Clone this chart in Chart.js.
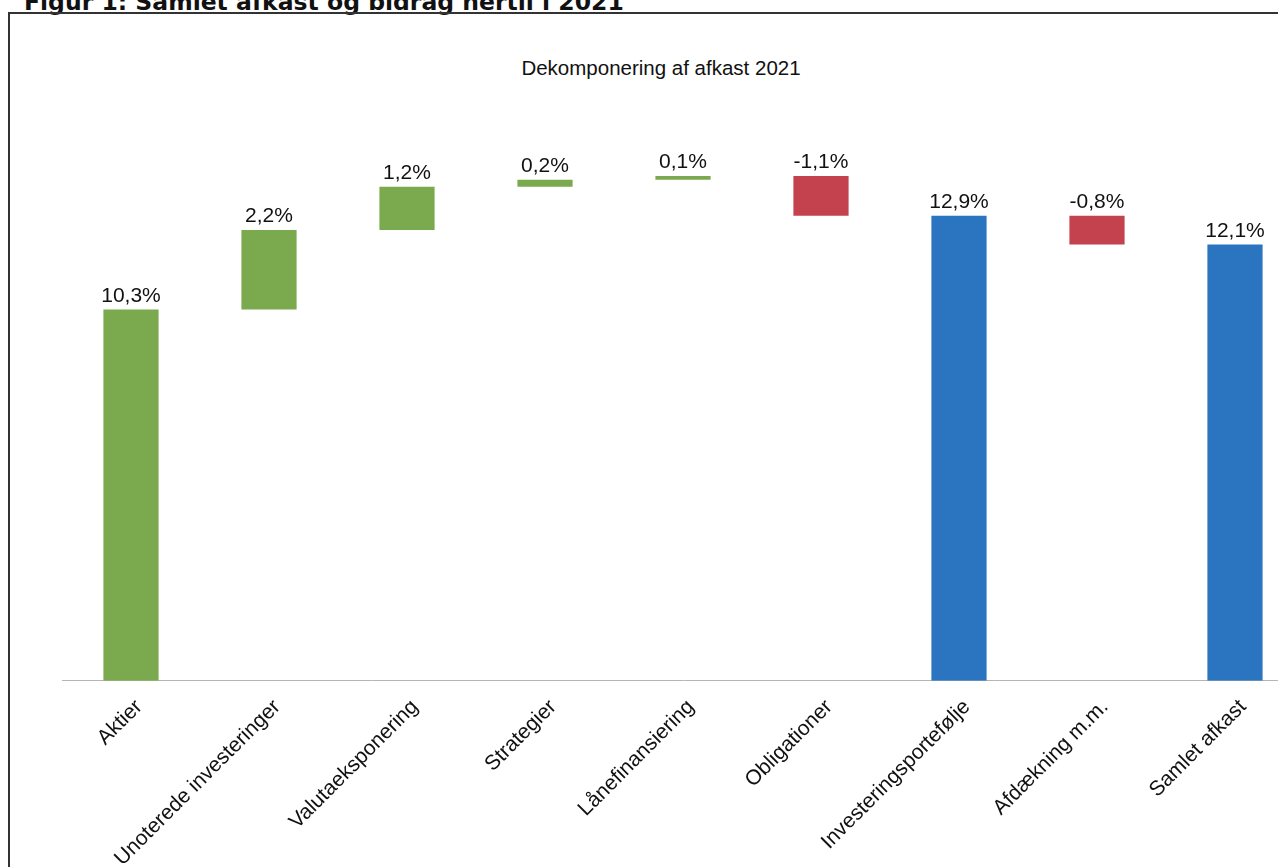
<!DOCTYPE html>
<html>
<head>
<meta charset="utf-8">
<script src="https://cdn.jsdelivr.net/npm/chart.js@4"></script>
<style>
  body { margin: 0; background: #fff; overflow: hidden; width: 1278px; height: 867px; position: relative; }
  #fig { position: absolute; left: 24px; top: -10px; font-family: "DejaVu Sans", Verdana, sans-serif; font-weight: bold; font-size: 23.5px; line-height: 24px; color: #111; white-space: nowrap; }
  #frame { position: absolute; left: 8px; top: 12px; width: 1320px; height: 900px; border: 2px solid #333; }
  #title { position: absolute; left: 461px; width: 400px; top: 56px; text-align: center; font-family: "Liberation Sans", Arial, sans-serif; font-size: 20.5px; color: #111; }
  #wrap { position: absolute; left: 0; top: 0; width: 1310px; height: 877px; }
</style>
</head>
<body>
<div id="fig">Figur 1: Samlet afkast og bidrag hertil i 2021</div>
<div id="frame"></div>
<div id="title">Dekomponering af afkast 2021</div>
<div id="wrap"><canvas id="wfChart"></canvas></div>
<script>
// kategorier og værdier (procent)
const categories = ['Aktier', 'Unoterede investeringer', 'Valutaeksponering', 'Strategier',
    'Lånefinansiering', 'Obligationer', 'Investeringsportefølje', 'Afdækning m.m.', 'Samlet afkast'];
const values = [10.3, 2.2, 1.2, 0.2, 0.1, -1.1, 12.9, -0.8, 12.1];
const isTotal = [false, false, false, false, false, false, true, false, true];

const GREEN = '#7aaa4d';
const RED = '#c4414e';
const BLUE = '#2a74c0';

// byg flydende søjler ud fra løbende sum
const floating = [];
const colors = [];
let running = 0;
values.forEach((v, i) => {
    if (isTotal[i]) {
        floating.push([0, v]);
        running = v;
        colors.push(BLUE);
    } else {
        floating.push([running, running + v]);
        running += v;
        colors.push(v < 0 ? RED : GREEN);
    }
});

// tekst over hver søjle
const valueLabels = {
    id: 'valueLabels',
    afterDatasetsDraw(chart) {
        const ctx = chart.ctx;
        const meta = chart.getDatasetMeta(0);
        ctx.save();
        ctx.font = '21px "Liberation Sans", Arial, sans-serif';
        ctx.fillStyle = '#111';
        ctx.textAlign = 'center';
        ctx.textBaseline = 'bottom';
        meta.data.forEach((bar, i) => {
            const top = Math.min(bar.y, bar.base);
            const txt = values[i].toFixed(1).replace('.', ',') + '%';
            ctx.fillText(txt, bar.x, top - 3);
        });
        ctx.restore();
    }
};

const wfChart = new Chart(document.getElementById('wfChart'), {
    type: 'bar',
    data: {
        labels: categories,
        datasets: [{
            data: floating,
            backgroundColor: colors,
            borderWidth: 0,
            barPercentage: 0.4,
            categoryPercentage: 1.0
        }]
    },
    options: {
        responsive: true,
        maintainAspectRatio: false,
        animation: false,
        layout: { padding: { left: 62, right: 6, top: 140, bottom: 0 } },
        plugins: {
            legend: { display: false },
            tooltip: { enabled: false }
        },
        scales: {
            x: {
                grid: { display: false },
                border: { display: true, color: '#b5b5b5', dash: [2, 2], width: 1 },
                ticks: {
                    color: '#111',
                    font: { family: '"Liberation Sans", Arial, sans-serif', size: 21 },
                    minRotation: 45,
                    maxRotation: 45,
                    autoSkip: false,
                    labelOffset: 8,
                    padding: 6
                }
            },
            y: {
                display: false,
                min: 0,
                max: 15
            }
        }
    },
    plugins: [valueLabels]
});
</script>
</body>
</html>
